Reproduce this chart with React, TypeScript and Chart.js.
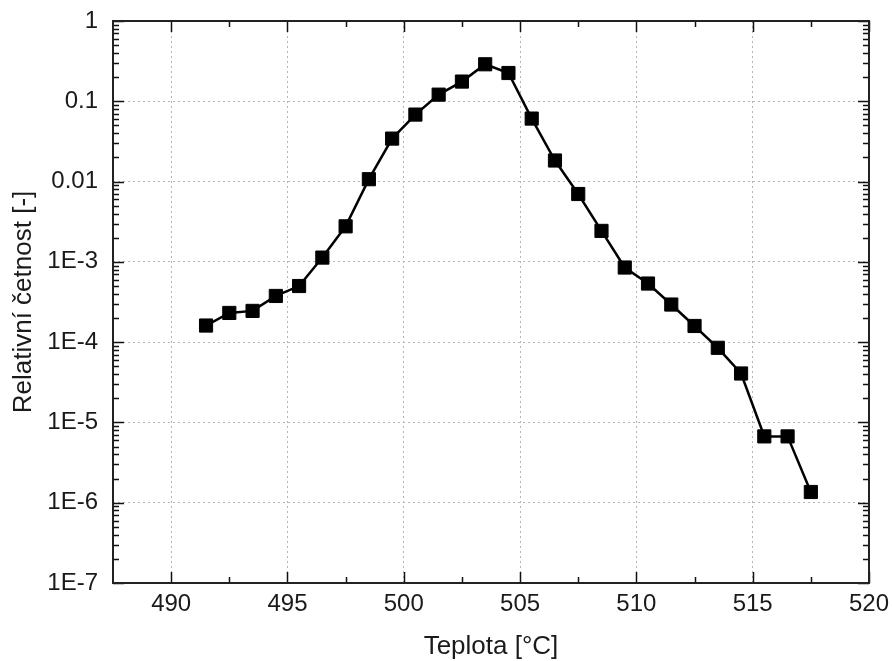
import React, { useEffect, useRef } from 'react';
import { Chart, registerables } from 'chart.js';

Chart.register(...registerables);

const temperatures = [
  491.5, 492.5, 493.5, 494.5, 495.5, 496.5, 497.5, 498.5, 499.5, 500.5,
  501.5, 502.5, 503.5, 504.5, 505.5, 506.5, 507.5, 508.5, 509.5, 510.5,
  511.5, 512.5, 513.5, 514.5, 515.5, 516.5, 517.5,
];
const frequencies = [
  1.61e-4, 2.31e-4, 2.45e-4, 3.76e-4, 5.0e-4, 1.13e-3, 2.77e-3, 0.0107, 0.0343, 0.0683,
  0.121, 0.176, 0.289, 0.225, 0.0609, 0.0183, 7.0e-3, 2.43e-3, 8.5e-4, 5.37e-4,
  2.94e-4, 1.59e-4, 8.5e-5, 4.07e-5, 6.7e-6, 6.7e-6, 1.36e-6,
];
const xTickValues = [490, 495, 500, 505, 510, 515, 520];
const xMinorTickValues = [492.5, 497.5, 502.5, 507.5, 512.5, 517.5];
const yTickValues = [1, 0.1, 0.01, 1e-3, 1e-4, 1e-5, 1e-6, 1e-7];
const yTickLabels = ['1', '0.1', '0.01', '1E-3', '1E-4', '1E-5', '1E-6', '1E-7'];
const yMinorMultipliers = [2, 3, 4, 5, 6, 7, 8, 9];
const xTitle = 'Teplota [°C]';
const yTitle = 'Relativní četnost [-]';

const FONT = "'Liberation Sans', Arial, sans-serif";

const framePlugin = {
  id: 'framePlugin',
  afterDatasetsDraw(chart: any) {
    const { ctx, chartArea, scales } = chart;
    const { left, right, top, bottom } = chartArea;
    const xs = scales.x;
    const ys = scales.y;
    ctx.save();
    ctx.strokeStyle = '#111';
    ctx.lineWidth = 1.5;
    ctx.beginPath();
    const major = 11;
    const minor = 6;
    xTickValues.forEach((v) => {
      const p = Math.round(xs.getPixelForValue(v)) + 0.5;
      ctx.moveTo(p, bottom); ctx.lineTo(p, bottom - major);
      ctx.moveTo(p, top); ctx.lineTo(p, top + major);
    });
    xMinorTickValues.forEach((v) => {
      const p = Math.round(xs.getPixelForValue(v)) + 0.5;
      ctx.moveTo(p, bottom); ctx.lineTo(p, bottom - minor);
      ctx.moveTo(p, top); ctx.lineTo(p, top + minor);
    });
    yTickValues.forEach((v) => {
      const p = Math.round(ys.getPixelForValue(v)) + 0.5;
      ctx.moveTo(left, p); ctx.lineTo(left + major, p);
      ctx.moveTo(right, p); ctx.lineTo(right - major, p);
    });
    yTickValues.slice(1).forEach((d) => {
      yMinorMultipliers.forEach((m) => {
        const p = Math.round(ys.getPixelForValue(d * m)) + 0.5;
        ctx.moveTo(left, p); ctx.lineTo(left + minor, p);
        ctx.moveTo(right, p); ctx.lineTo(right - minor, p);
      });
    });
    ctx.stroke();
    ctx.lineWidth = 2;
    ctx.strokeStyle = '#222';
    ctx.strokeRect(left, top, right - left, bottom - top);
    ctx.restore();
  },
};

export default function App() {
  const ref = useRef<HTMLCanvasElement>(null);
  useEffect(() => {
    if (!ref.current) return;
    const chart = new Chart(ref.current, {
      type: 'line',
      data: {
        datasets: [
          {
            data: temperatures.map((t, i) => ({ x: t, y: frequencies[i] })),
            borderColor: '#000',
            backgroundColor: '#000',
            borderWidth: 2.5,
            pointStyle: 'rect',
            pointRadius: 9.3,
            pointBorderWidth: 1,
            tension: 0,
          },
        ],
      },
      options: {
        animation: false,
        responsive: false,
        devicePixelRatio: 1,
        layout: { padding: { top: 21, right: 23, left: 0, bottom: 0 } },
        plugins: { legend: { display: false }, tooltip: { enabled: false } },
        scales: {
          x: {
            type: 'linear',
            min: 487.5,
            max: 520,
            afterFit: (s: any) => { s.height = 78; },
            afterBuildTicks: (s: any) => { s.ticks = xTickValues.map((v) => ({ value: v })); },
            ticks: {
              color: '#1a1a1a',
              padding: 0,
              font: { family: FONT, size: 24 },
              callback: (v: any) => String(v),
            },
            grid: {
              color: '#b4b4b4',
              lineWidth: 1,
              drawTicks: true,
              tickLength: 7,
              tickColor: 'rgba(0,0,0,0)',
            },
            border: { display: false, dash: [2, 3] },
            title: {
              display: true,
              text: xTitle,
              color: '#1a1a1a',
              font: { family: FONT, size: 26, lineHeight: 1 },
              padding: { top: 0, bottom: 1 },
            },
          },
          y: {
            type: 'logarithmic',
            min: 1e-7,
            max: 1,
            afterFit: (s: any) => { s.width = 113; },
            afterBuildTicks: (s: any) => { s.ticks = yTickValues.map((v) => ({ value: v })); },
            ticks: {
              color: '#1a1a1a',
              padding: 0,
              font: { family: FONT, size: 24 },
              callback: (v: any) => {
                const i = yTickValues.findIndex((t) => Math.abs(Math.log10(t) - Math.log10(v)) < 1e-6);
                return i >= 0 ? yTickLabels[i] : '';
              },
            },
            grid: {
              color: '#b4b4b4',
              lineWidth: 1,
              drawTicks: true,
              tickLength: 15,
              tickColor: 'rgba(0,0,0,0)',
            },
            border: { display: false, dash: [2, 3] },
            title: {
              display: true,
              text: yTitle,
              color: '#1a1a1a',
              font: { family: FONT, size: 26, lineHeight: 1 },
              padding: { top: 11, bottom: 0 },
            },
          },
        },
      },
      plugins: [framePlugin],
    });
    return () => chart.destroy();
  }, []);
  return (
    <div style={{ position: 'fixed', left: 0, top: 0, width: 892, height: 661, background: '#fff' }}>
      <canvas ref={ref} width={892} height={661} />
    </div>
  );
}
